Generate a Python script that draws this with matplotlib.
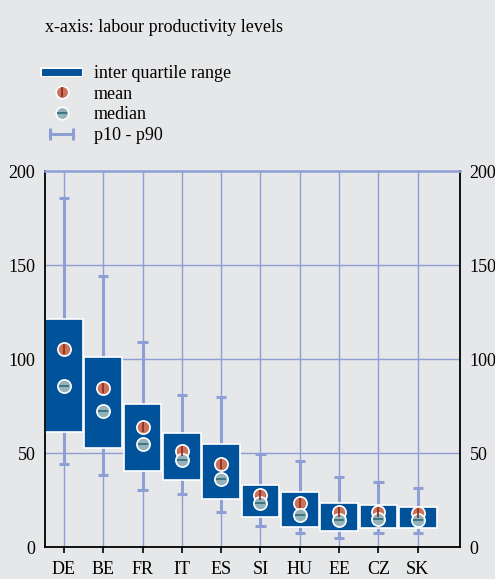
import matplotlib.pyplot as plt
import numpy as np
from matplotlib.lines import Line2D
from matplotlib.legend_handler import HandlerLine2D, HandlerTuple
import matplotlib.patheffects as pe

plt.rcParams['font.family'] = ['Liberation Serif', 'DejaVu Serif']

countries = ['DE', 'BE', 'FR', 'IT', 'ES', 'SI', 'HU', 'EE', 'CZ', 'SK']
p10 = [44.3, 38.5, 30.5, 28.4, 18.6, 11.5, 7.4, 5.1, 7.4, 7.8]
p25 = [61.3, 52.8, 40.8, 36.0, 25.5, 16.3, 10.6, 8.8, 10.4, 10.4]
p75 = [121.4, 101.0, 76.4, 60.6, 54.8, 33.1, 29.6, 23.4, 22.5, 21.4]
p90 = [185.6, 144.5, 109.0, 80.9, 80.0, 49.6, 45.9, 37.2, 34.9, 31.4]
means = [105.6, 84.7, 63.8, 51.2, 44.3, 27.8, 23.4, 18.9, 18.9, 18.4]
medians = [85.8, 72.7, 55.1, 46.3, 36.3, 23.4, 17.4, 14.5, 14.9, 14.5]

bg = '#e6e7e9'
blue = '#00529b'
grid_c = '#8d9fd5'
mean_c = '#c8735a'
mean_line = '#8a2a1e'
med_c = '#93b2ba'
med_line = '#2c6b7b'

fig = plt.figure(figsize=(4.95, 5.79), dpi=100, facecolor=bg)
ax = fig.add_axes([0.0909, 0.0547, 0.838, 0.6495], facecolor=bg)

x = np.arange(len(countries))

# grid
for xi in x:
    ax.axvline(xi, color=grid_c, lw=1, zorder=0)
for yv in [50, 100, 150]:
    ax.axhline(yv, color=grid_c, lw=1, zorder=0)

# whiskers p10 - p90
ax.vlines(x, p10, p90, color=grid_c, lw=2.2, zorder=1)
ax.hlines(p10, x - 0.13, x + 0.13, color=grid_c, lw=2.2, zorder=1)
ax.hlines(p90, x - 0.13, x + 0.13, color=grid_c, lw=2.2, zorder=1)

# inter quartile boxes
heights = np.array(p75) - np.array(p25)
ax.bar(x, heights, bottom=p25, width=0.96, color=blue, edgecolor='white',
       linewidth=1.2, zorder=2)

# mean & median markers
ax.plot(x, means, 'o', ms=9.5, mfc=mean_c, mec='white', mew=1.2, zorder=3)
ax.plot(x, means, '|', ms=7, mec=mean_line, mew=1.2, zorder=4)
ax.plot(x, medians, 'o', ms=9.5, mfc=med_c, mec='white', mew=1.2, zorder=3)
ax.plot(x, medians, '_', ms=7, mec=med_line, mew=1.2, zorder=4)

ax.set_xlim(-0.48, 10.07)
ax.set_ylim(0, 200)
ax.set_xticks(x)
ax.set_xticklabels(countries)
ax.set_yticks([0, 50, 100, 150, 200])
ax.tick_params(axis='y', length=0, pad=7, labelsize=13, labelright=True)
ax.tick_params(axis='x', length=4, width=1.2, pad=6, labelsize=13)

for s in ['left', 'right', 'bottom']:
    ax.spines[s].set_color('black')
    ax.spines[s].set_linewidth(1.3)
ax.spines['top'].set_color(grid_c)
ax.spines['top'].set_linewidth(1.8)

# title and legend
fig.text(0.0909, 1 - 28 / 579, 'x-axis: labour productivity levels',
         fontsize=13, va='center', ha='left')

h_iqr = Line2D([0], [0], color=blue, lw=5,
               path_effects=[pe.Stroke(linewidth=7, foreground='white'), pe.Normal()])
h_mean = (Line2D([0], [0], ls='', marker='o', ms=9, mfc=mean_c, mec='white', mew=1.2),
          Line2D([0], [0], ls='', marker='|', ms=7, mec=mean_line, mew=1.2))
h_med = (Line2D([0], [0], ls='', marker='o', ms=9, mfc=med_c, mec='white', mew=1.2),
         Line2D([0], [0], ls='', marker='_', ms=7, mec=med_line, mew=1.2))
h_wh = Line2D([0], [0], color=grid_c, lw=2.2, marker='|', ms=9, mew=2.2)

fig.legend([h_iqr, h_mean, h_med, h_wh],
           ['inter quartile range', 'mean', 'median', 'p10 - p90'],
           loc='upper left', bbox_to_anchor=(0.0909, 1 - 65 / 579),
           frameon=False, fontsize=13, borderpad=0, borderaxespad=0,
           handlelength=1.85, handletextpad=0.85, labelspacing=0.2,
           handler_map={h_wh: HandlerLine2D(numpoints=2),
                        tuple: HandlerTuple(ndivide=1)})

fig.savefig('out.png', dpi=100, facecolor=bg)
